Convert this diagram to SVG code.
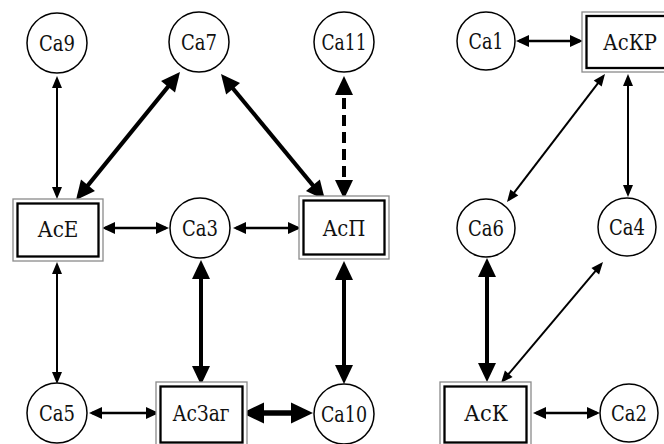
<svg xmlns="http://www.w3.org/2000/svg" width="664" height="444" viewBox="0 0 664 444">
<style>
.bg{fill:#ffffff}
circle.n{fill:#fff;stroke:#000;stroke-width:1.5}
rect.o{fill:#fff;stroke:#8a8a8a;stroke-width:1.3}
rect.i{fill:none;stroke:#000;stroke-width:2.3}
text{font-family:"DejaVu Serif","Liberation Serif",serif;font-stretch:condensed;font-size:22px;fill:#111;text-anchor:middle}
line{stroke:#000;fill:none}
.thin{stroke-width:2;marker-start:url(#aThin);marker-end:url(#aThin)}
.med{stroke-width:2.5;marker-start:url(#aMed);marker-end:url(#aMed)}
.thick{stroke-width:4;marker-start:url(#aThick);marker-end:url(#aThick)}
.xthick{stroke-width:5.5;marker-start:url(#aX);marker-end:url(#aX)}
.dash{stroke-dasharray:11 6}
</style>
<defs>
<marker id="aThin" markerUnits="userSpaceOnUse" markerWidth="12" markerHeight="10" refX="9" refY="5" orient="auto-start-reverse" overflow="visible"><path d="M0,0 L12,5 L0,10 z" fill="#000"/></marker>
<marker id="aMed" markerUnits="userSpaceOnUse" markerWidth="13" markerHeight="12" refX="10" refY="6" orient="auto-start-reverse" overflow="visible"><path d="M0,0 L13,6 L0,12 z" fill="#000"/></marker>
<marker id="aThick" markerUnits="userSpaceOnUse" markerWidth="19" markerHeight="18" refX="14" refY="9" orient="auto-start-reverse" overflow="visible"><path d="M0,0 L19,9 L0,18 z" fill="#000"/></marker>
<marker id="aX" markerUnits="userSpaceOnUse" markerWidth="22" markerHeight="21" refX="16" refY="10.5" orient="auto-start-reverse" overflow="visible"><path d="M0,0 L22,10.5 L0,21 z" fill="#000"/></marker>
</defs>
<rect class="bg" x="0" y="0" width="664" height="444"/>
<g id="connectors">
<line class="thin" x1="57" y1="79" x2="57" y2="196"/>
<line class="thick" x1="176.85" y1="75.88" x2="79.15" y2="196.12"/>
<line class="thick" x1="224.18" y1="77.86" x2="321.82" y2="196.14"/>
<line class="thick dash" x1="344" y1="81" x2="344" y2="194"/>
<line class="med" x1="105" y1="228" x2="166" y2="228"/>
<line class="med" x1="236" y1="228" x2="298" y2="228"/>
<line class="thin" x1="57" y1="265" x2="57" y2="381"/>
<line class="thick" x1="201" y1="265" x2="201" y2="380"/>
<line class="thick" x1="344" y1="266" x2="344" y2="379"/>
<line class="med" x1="92" y1="413" x2="156" y2="413"/>
<line class="xthick" x1="248" y1="413" x2="307" y2="413"/>
<line class="med" x1="519" y1="41" x2="580" y2="41"/>
<line class="thin" x1="603.18" y1="76.38" x2="508.82" y2="199.62"/>
<line class="thin" x1="628" y1="77" x2="628" y2="194"/>
<line class="thick" x1="487" y1="263" x2="487" y2="377"/>
<line class="thin" x1="601.07" y1="264.29" x2="502.93" y2="380.71"/>
<line class="med" x1="536" y1="413" x2="597" y2="413"/>
</g>
<g id="Ca9"><circle class="n" cx="57" cy="43" r="30"/><text x="57" y="51" textLength="36" lengthAdjust="spacingAndGlyphs">Са9</text></g>
<g id="Ca7"><circle class="n" cx="199" cy="42" r="30"/><text x="199" y="50" textLength="36" lengthAdjust="spacingAndGlyphs">Са7</text></g>
<g id="Ca11"><circle class="n" cx="344" cy="42" r="30"/><text x="344" y="50" textLength="45" lengthAdjust="spacingAndGlyphs">Са11</text></g>
<g id="AcE"><rect class="o" x="13" y="199" width="90" height="62"/><rect class="i" x="17.5" y="203.5" width="81" height="53"/><text x="58" y="237" textLength="41" lengthAdjust="spacingAndGlyphs">АсЕ</text></g>
<g id="Ca3"><circle class="n" cx="200" cy="228" r="30"/><text x="200" y="236" textLength="36" lengthAdjust="spacingAndGlyphs">Са3</text></g>
<g id="AcP"><rect class="o" x="299" y="196" width="90" height="63"/><rect class="i" x="303.5" y="200.5" width="81" height="54"/><text x="344" y="236" textLength="43" lengthAdjust="spacingAndGlyphs">АсП</text></g>
<g id="Ca5"><circle class="n" cx="57" cy="413" r="30"/><text x="57" y="421" textLength="36" lengthAdjust="spacingAndGlyphs">Са5</text></g>
<g id="AcZag"><rect class="o" x="156" y="382" width="91" height="64"/><rect class="i" x="160.5" y="386.5" width="82" height="56"/><text x="201" y="421" textLength="57" lengthAdjust="spacingAndGlyphs">АсЗаг</text></g>
<g id="Ca10"><circle class="n" cx="344" cy="414" r="30"/><text x="344" y="422" textLength="46" lengthAdjust="spacingAndGlyphs">Са10</text></g>
<g id="Ca1"><circle class="n" cx="486" cy="41" r="29"/><text x="486" y="49" textLength="35" lengthAdjust="spacingAndGlyphs">Са1</text></g>
<g id="AcKR"><rect class="o" x="582" y="12" width="90" height="60"/><rect class="i" x="586.5" y="16" width="81" height="52"/><text x="630" y="50" textLength="54" lengthAdjust="spacingAndGlyphs">АсКР</text></g>
<g id="Ca6"><circle class="n" cx="486" cy="228" r="29"/><text x="486" y="236" textLength="36" lengthAdjust="spacingAndGlyphs">Са6</text></g>
<g id="Ca4"><circle class="n" cx="627" cy="227" r="29"/><text x="627" y="235" textLength="36" lengthAdjust="spacingAndGlyphs">Са4</text></g>
<g id="AcK"><rect class="o" x="440" y="382" width="91" height="64"/><rect class="i" x="444.5" y="386.5" width="82" height="56"/><text x="486" y="421" textLength="44" lengthAdjust="spacingAndGlyphs">АсК</text></g>
<g id="Ca2"><circle class="n" cx="629" cy="413" r="29"/><text x="629" y="421" textLength="36" lengthAdjust="spacingAndGlyphs">Са2</text></g>
</svg>
